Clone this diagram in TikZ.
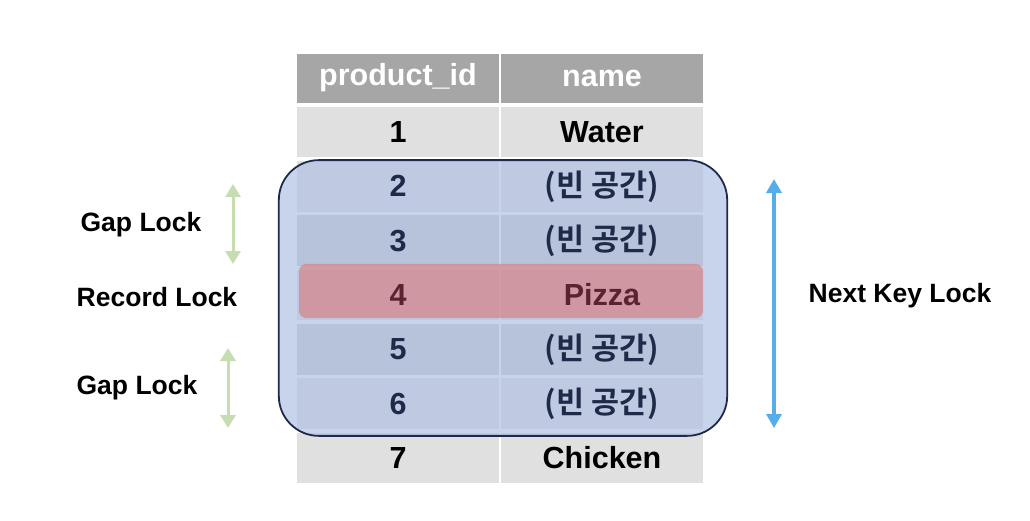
\documentclass[tikz,border=0pt]{standalone}
\usepackage{fontspec}
\setmainfont{Liberation Sans}
\newfontfamily\krfont{Noto Sans CJK KR}[BoldFont={Noto Sans CJK KR Bold}]
\usetikzlibrary{calc}
\usetikzlibrary{arrows.meta}

\definecolor{hdrgray}{HTML}{A6A6A6}
\definecolor{rowgray}{HTML}{E0E0E0}
\definecolor{rowdark}{HTML}{C6C6C6}
\definecolor{boxblue}{HTML}{B1C1E4}
\definecolor{boxline}{HTML}{1F2A4A}
\definecolor{txtnavy}{HTML}{1E2A47}
\definecolor{recred}{HTML}{DA7676}
\definecolor{txtred}{HTML}{5A2330}
\definecolor{gapgreen}{HTML}{C6DDB2}
\definecolor{nkblue}{HTML}{55AEEA}

\pgfdeclarelayer{cells}
\pgfdeclarelayer{locks}
\pgfsetlayers{cells,locks,main}

\begin{document}
\begin{tikzpicture}[x=1pt, y=-1pt,
  cell/.style={minimum width=202pt, minimum height=50pt, inner sep=0pt, font=\fontsize{30.5}{30.5}\selectfont\bfseries},
  hdr/.style={cell, minimum height=49pt, fill=hdrgray, text=white},
  lbl/.style={font=\fontsize{26.5}{26.5}\selectfont\bfseries},
  gaparrow/.style={gapgreen, line width=3pt, {Triangle[width=15pt,length=13pt]}-{Triangle[width=15pt,length=13pt]}},
  nkarrow/.style={nkblue, line width=3.5pt, {Triangle[width=15pt,length=14pt]}-{Triangle[width=15pt,length=14pt]}}]
\useasboundingbox (0,0) rectangle (1030,520);

% header
\node[hdr] (hid) at (398,78) {product\_id};
\node[hdr] (hnm) at (602,78) {name};

% rows
\foreach \i/\nm/\tc/\fc in {1/Water/black/rowgray, 2/{\krfont (빈 공간)}/txtnavy/rowgray, 3/{\krfont (빈 공간)}/txtnavy/rowdark, 4/Pizza/txtred/rowgray, 5/{\krfont (빈 공간)}/txtnavy/rowdark, 6/{\krfont (빈 공간)}/txtnavy/rowgray, 7/Chicken/black/rowgray} {
 \node[cell, text=\tc] (id\i) at (398, {132+(\i-1)*54.33}) {\i};
 \node[cell, text=\tc] (nm\i) at (602, {132+(\i-1)*54.33}) {\nm};
 \begin{pgfonlayer}{cells}
  \fill[\fc] (id\i.north west) rectangle (id\i.south east);
  \fill[\fc] (nm\i.north west) rectangle (nm\i.south east);
 \end{pgfonlayer}
}

% lock ranges
\begin{pgfonlayer}{locks}
 \draw[boxline, line width=1.8pt, fill=boxblue, fill opacity=.7, rounded corners=40pt]
   ($(id2.north west)+(-18,-1)$) rectangle ($(nm6.south east)+(24,7)$);
 \fill[recred, opacity=.6, rounded corners=8pt]
   ($(id4.north west)+(2,-6)$) rectangle ($(nm4.south east)+(0,-2)$);
\end{pgfonlayer}

% labels
\node[lbl] (gap1) at (141,225) {Gap Lock};
\node[lbl] (rec) at (157,297) {Record Lock};
\node[lbl] (gap2) at (137,388) {Gap Lock};
\node[lbl] (nkl) at (900,296) {Next Key Lock};

\coordinate (g1a) at (233,184);
\coordinate (g1b) at (233,264);
\coordinate (g2a) at (228,348);
\coordinate (g2b) at (228,428);
\coordinate (nka) at (774,179);
\coordinate (nkb) at (774,428);
\draw[gaparrow] (g1a) -- (g1b);
\draw[gaparrow] (g2a) -- (g2b);
\draw[nkarrow] (nka) -- (nkb);
\end{tikzpicture}
\end{document}
